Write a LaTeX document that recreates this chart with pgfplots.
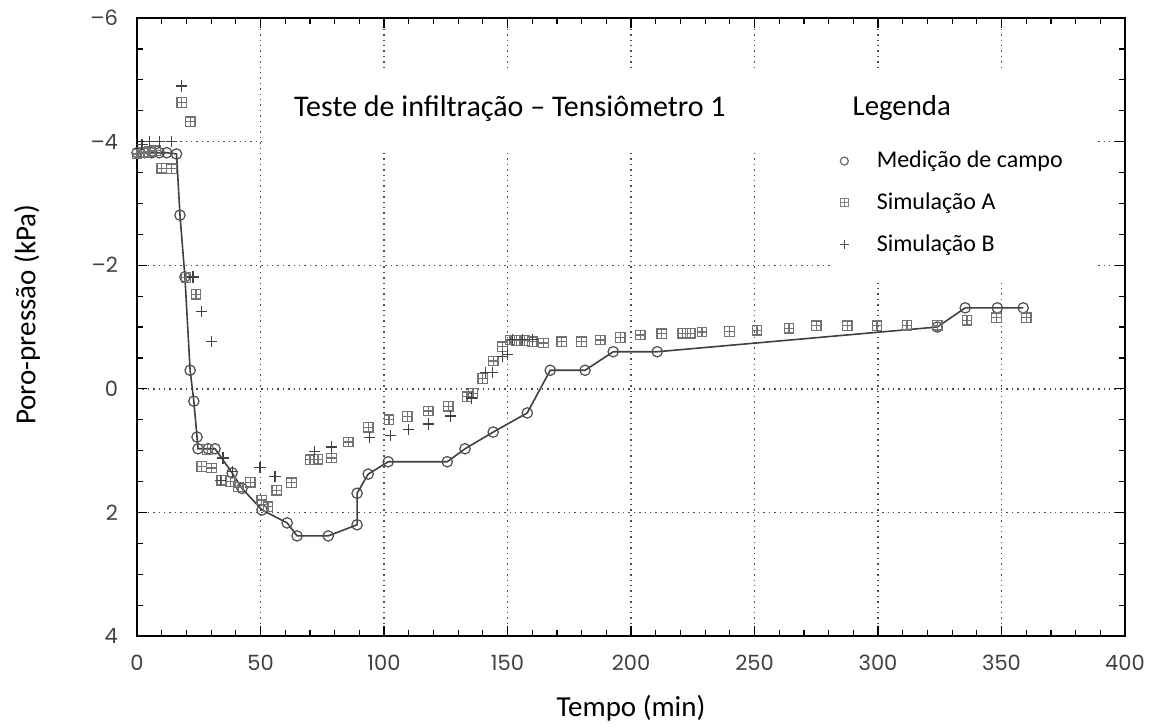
\documentclass[border=0pt]{standalone}
\usepackage{fontspec}
\setmainfont{Carlito}
\newfontfamily\tickfont{Poppins}
\usepackage{pgfplots}
\pgfplotsset{compat=1.18}
\usepackage{pgfplotstable}

% square with an inner cross, drawn in the current mark colour
\pgfdeclareplotmark{sqgrid}{%
  \pgfpathrectangle{\pgfqpoint{-\pgfplotmarksize}{-\pgfplotmarksize}}{\pgfqpoint{2\pgfplotmarksize}{2\pgfplotmarksize}}%
  \pgfpathmoveto{\pgfqpoint{-\pgfplotmarksize}{0pt}}\pgfpathlineto{\pgfqpoint{\pgfplotmarksize}{0pt}}%
  \pgfpathmoveto{\pgfqpoint{0pt}{-\pgfplotmarksize}}\pgfpathlineto{\pgfqpoint{0pt}{\pgfplotmarksize}}%
  \pgfusepathqstroke}

% field measurements (tensiometer 1)
\pgfplotstableread{
t u
0 -3.82
3 -3.82
6 -3.82
9 -3.82
12 -3.82
16 -3.80
17.4 -2.81
19.4 -1.81
21.5 -0.30
23 0.20
24.3 0.78
24.7 0.97
28.8 0.97
31.6 0.97
38.5 1.36
42.5 1.61
50.6 1.96
60.8 2.17
64.8 2.38
77.4 2.38
89.1 2.20
89.1 1.69
93.6 1.38
101.7 1.18
125.6 1.18
132.8 0.97
144.2 0.70
158 0.39
167.3 -0.30
181.4 -0.30
192.8 -0.60
210.6 -0.60
324 -1.00
335.3 -1.31
348.3 -1.31
358.8 -1.31
}\campo

% simulation A
\pgfplotstableread{
t u
0 -3.80
2.5 -3.82
5 -3.84
7.5 -3.85
10 -3.57
14 -3.56
18.1 -4.63
19.8 -1.80
21.5 -4.32
23.9 -1.53
26.2 1.26
28.5 0.98
30.2 1.28
34.3 1.48
37.7 1.50
41 1.59
45.8 1.51
50.5 1.80
53 1.91
56.6 1.64
62.6 1.52
70 1.15
73.3 1.14
78.8 1.12
85.5 0.86
93.6 0.62
102 0.50
109.4 0.45
117.9 0.36
126 0.28
133.6 0.13
136 0.07
140 -0.17
144.2 -0.45
148 -0.68
151 -0.79
153.8 -0.78
157 -0.78
160 -0.76
164.5 -0.74
172 -0.76
180 -0.76
187.5 -0.79
195.6 -0.83
203.7 -0.87
212.5 -0.89
221 -0.90
224 -0.90
228.7 -0.92
239.8 -0.93
251 -0.95
264 -0.98
275 -1.02
287.5 -1.02
299.6 -1.02
311.7 -1.03
324 -1.03
336 -1.11
348 -1.15
360 -1.15
}\simA

% simulation B
\pgfplotstableread{
t u
2 -3.95
5 -4.00
9 -4.00
14 -4.00
18.1 -4.90
22.7 -1.81
26.2 -1.25
30.2 -0.76
33.8 1.48
34.8 1.12
38.8 1.34
49.8 1.27
55.9 1.42
72 1.02
78.8 0.94
94 0.79
102.5 0.75
110 0.66
118 0.57
126.8 0.44
135.5 0.15
141 -0.26
144 -0.27
148 -0.52
150 -0.56
152 -0.80
156 -0.80
160 -0.80
}\simB

\begin{document}
\begin{tikzpicture}
\begin{axis}[
  scale only axis,
  width=494pt, height=309pt,
  xmin=0, xmax=400, ymin=-6, ymax=4,
  y dir=reverse,
  xtick={0,50,...,400},
  xticklabels={0,50,100,150,200,250,300,350,400},
  ytick={-6,-4,-2,0,2,4},
  yticklabels={–6,–4,–2,0,2,4},
  minor x tick num=4,
  minor y tick num=3,
  tick align=inside,
  major tick length=5pt,
  minor tick length=3pt,
  tick style={black, line width=0.6pt},
  axis line style={line width=1.4pt},
  ticklabel style={font=\tickfont\fontsize{10.5}{12}\selectfont, text=black!75},
  xticklabel style={yshift=-6pt},
  yticklabel style={xshift=-6pt},
  xmajorgrids, ymajorgrids,
  major grid style={black!70, line width=0.7pt, dotted},
  xlabel={Tempo (min)},
  ylabel={Poro-pressão (kPa)},
  label style={font=\fontsize{14.5}{16}\selectfont},
  xlabel style={at={(axis description cs:0.5,-0.1165)}, anchor=center},
  ylabel style={at={(axis description cs:-0.1113,0.52)}, anchor=center},
  legend style={at={(axis cs:282,-3.98)}, anchor=north west, draw=none, fill=none,
    font=\fontsize{12}{13.5}\selectfont, row sep=7pt,
    /tikz/every odd column/.append style={column sep=12pt}},
  legend cell align=left,
  legend image code/.code={\draw[mark repeat=1,mark phase=1,#1] plot coordinates {(0pt,0pt)};},
]
\coordinate (bl) at (axis cs:-55.47,5.4725);
\coordinate (tr) at (axis cs:411.74,-6.2913);

% clear the grid behind the title and the legend
\fill[white] (axis cs:50.6,-5.13) rectangle (axis cs:388.7,-3.83);
\fill[white] (axis cs:280.5,-5.13) rectangle (axis cs:388.7,-1.73);

\addplot[forget plot, black!75, line width=0.8pt, mark=o, mark size=2.6pt,
  mark options={black!70, line width=0.6pt, fill=none}] table[x=t,y=u] {\campo};
\addplot[forget plot, only marks, mark=sqgrid, mark size=2.4pt,
  mark options={black!55, line width=0.6pt}] table[x=t,y=u] {\simA};
\addplot[forget plot, only marks, mark=+, mark size=2.8pt,
  mark options={black!75, line width=0.6pt}] table[x=t,y=u] {\simB};

\addlegendimage{only marks, mark=o, mark size=2pt, mark options={black!60, line width=0.6pt}}
\addlegendentry{Medição de campo}
\addlegendimage{only marks, mark=sqgrid, mark size=2pt, mark options={black!50, line width=0.6pt}}
\addlegendentry{Simulação A}
\addlegendimage{only marks, mark=+, mark size=2.2pt, mark options={black!70, line width=0.6pt}}
\addlegendentry{Simulação B}

\node[font=\fontsize{15}{17}\selectfont] at (axis cs:151,-4.54) {Teste de infiltração – Tensiômetro 1};
\node[font=\fontsize{14.4}{16}\selectfont, anchor=west, inner sep=0pt] at (axis cs:289.6,-4.54) {Legenda};
\end{axis}
\pgfresetboundingbox
\path[use as bounding box] (bl) rectangle (tr);
\end{tikzpicture}
\end{document}
